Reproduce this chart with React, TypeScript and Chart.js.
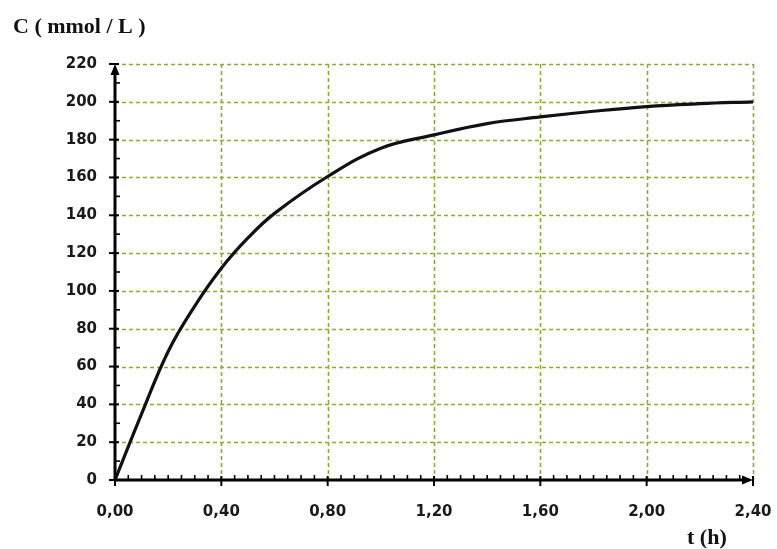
import React, { useEffect, useRef } from "react";
import { Chart, registerables } from "chart.js";

Chart.register(...registerables);

// Time (h) and concentration (mmol/L)
const timeH = [0, 0.1, 0.2, 0.3, 0.4, 0.5, 0.6, 0.8, 1.0, 1.2, 1.4, 1.6, 1.8, 2.0, 2.2, 2.4];
const concentration = [0, 35, 68, 92, 112, 128, 141, 160.5, 175.5, 182.5, 188.5, 192, 195, 197.5, 199, 200];

const xMin = 0;
const xMax = 2.4;
const xStep = 0.4;
const xMinorStep = 0.05;
const yMin = 0;
const yMax = 220;
const yStep = 20;
const yMinorStep = 10;

const yTitle = "C ( mmol / L )";
const xTitle = "t (h)";

const GRID_COLOR = "#8aab3a";

const decoPlugin = {
  id: "deco",
  beforeDatasetsDraw(chart: any) {
    const { ctx, chartArea, scales } = chart;
    const xs = scales.x;
    const ys = scales.y;
    ctx.save();
    ctx.strokeStyle = GRID_COLOR;
    ctx.lineWidth = 1.6;
    ctx.setLineDash([4, 3]);
    for (let v = yMin + yStep; v <= yMax + 1e-9; v += yStep) {
      const py = Math.round(ys.getPixelForValue(v)) + 0.5;
      ctx.beginPath();
      ctx.moveTo(chartArea.left, py);
      ctx.lineTo(chartArea.right, py);
      ctx.stroke();
    }
    for (let i = 1; xMin + i * xStep <= xMax + 1e-9; i++) {
      const px = Math.round(xs.getPixelForValue(xMin + i * xStep)) + 0.5;
      ctx.beginPath();
      ctx.moveTo(px, chartArea.top);
      ctx.lineTo(px, chartArea.bottom);
      ctx.stroke();
    }
    ctx.restore();
  },
  afterDatasetsDraw(chart: any) {
    const { ctx, scales } = chart;
    const xs = scales.x;
    const ys = scales.y;
    const left = xs.getPixelForValue(xMin);
    const bottom = ys.getPixelForValue(yMin);
    const top = ys.getPixelForValue(yMax);
    const right = xs.getPixelForValue(xMax);
    ctx.save();
    ctx.setLineDash([]);
    ctx.strokeStyle = "#000";
    ctx.fillStyle = "#000";
    // axes
    ctx.lineWidth = 3;
    ctx.beginPath();
    ctx.moveTo(left, bottom + 1);
    ctx.lineTo(left, top + 4);
    ctx.moveTo(left - 1, bottom);
    ctx.lineTo(right - 4, bottom);
    ctx.stroke();
    // arrows
    ctx.beginPath();
    ctx.moveTo(left, top);
    ctx.lineTo(left - 4.5, top + 11);
    ctx.lineTo(left + 4.5, top + 11);
    ctx.closePath();
    ctx.fill();
    ctx.beginPath();
    ctx.moveTo(right, bottom);
    ctx.lineTo(right - 11, bottom - 4.5);
    ctx.lineTo(right - 11, bottom + 4.5);
    ctx.closePath();
    ctx.fill();
    // y ticks
    ctx.lineWidth = 2;
    for (let v = yMin; v <= yMax + 1e-9; v += yStep) {
      const py = ys.getPixelForValue(v);
      ctx.beginPath();
      ctx.moveTo(left - 6, py);
      ctx.lineTo(left + 4, py);
      ctx.stroke();
    }
    ctx.lineWidth = 1.6;
    for (let v = yMin + yMinorStep; v < yMax; v += yStep) {
      const py = ys.getPixelForValue(v);
      ctx.beginPath();
      ctx.moveTo(left, py);
      ctx.lineTo(left + 5, py);
      ctx.stroke();
    }
    // x ticks
    const nMinor = Math.round((xMax - xMin) / xMinorStep);
    const perMajor = Math.round(xStep / xMinorStep);
    for (let i = 0; i <= nMinor; i++) {
      const px = xs.getPixelForValue(xMin + i * xMinorStep);
      ctx.beginPath();
      if (i % perMajor === 0) {
        ctx.lineWidth = 2;
        ctx.moveTo(px, bottom - 4);
        ctx.lineTo(px, bottom + 6);
      } else {
        ctx.lineWidth = 1.6;
        ctx.moveTo(px, bottom);
        ctx.lineTo(px, bottom - 5);
      }
      ctx.stroke();
    }
    ctx.restore();
  },
  afterDraw(chart: any) {
    const { ctx } = chart;
    ctx.save();
    ctx.fillStyle = "#111";
    ctx.textAlign = "left";
    ctx.textBaseline = "alphabetic";
    ctx.font = 'bold 22px "Liberation Serif", serif';
    ctx.fillText(yTitle, 13, 33);
    ctx.fillText(xTitle, 687, 544);
    ctx.restore();
  },
};

const tickFont = { family: '"DejaVu Sans", sans-serif', size: 15, weight: "bold" };

export default function App() {
  const ref = useRef<HTMLCanvasElement | null>(null);
  useEffect(() => {
    if (!ref.current) return;
    const chart = new Chart(ref.current, {
      type: "line",
      data: {
        datasets: [
          {
            data: timeH.map((t, i) => ({ x: t, y: concentration[i] })),
            borderColor: "#111",
            borderWidth: 3.2,
            pointRadius: 0,
            tension: 0.4,
            fill: false,
          },
        ],
      },
      options: {
        animation: false,
        responsive: false,
        maintainAspectRatio: false,
        layout: { padding: { top: 64, right: 24, left: 0, bottom: 0 } },
        plugins: { legend: { display: false }, tooltip: { enabled: false } },
        scales: {
          x: {
            type: "linear",
            min: xMin,
            max: xMax,
            grid: { display: false, drawTicks: false },
            border: { display: false },
            afterFit: (s: any) => {
              s.height = 69;
              s.paddingRight = 0;
              s.paddingLeft = 0;
            },
            ticks: {
              stepSize: xStep,
              padding: 23,
              color: "#1a1a1a",
              font: tickFont,
              callback: (v: any) => Number(v).toFixed(2).replace(".", ","),
              maxRotation: 0,
              autoSkip: false,
            },
          },
          y: {
            type: "linear",
            min: yMin,
            max: yMax,
            grid: { display: false, drawTicks: false },
            border: { display: false },
            afterFit: (s: any) => {
              s.width = 115;
              s.paddingTop = 0;
              s.paddingBottom = 0;
            },
            ticks: {
              stepSize: yStep,
              padding: 18,
              color: "#1a1a1a",
              font: tickFont,
            },
          },
        },
      },
      plugins: [decoPlugin],
    } as any);
    return () => chart.destroy();
  }, []);
  return (
    <div style={{ position: "absolute", left: 0, top: 0, width: 777, height: 549, background: "#fff" }}>
      <canvas ref={ref} width={777} height={549} style={{ display: "block" }} />
    </div>
  );
}
